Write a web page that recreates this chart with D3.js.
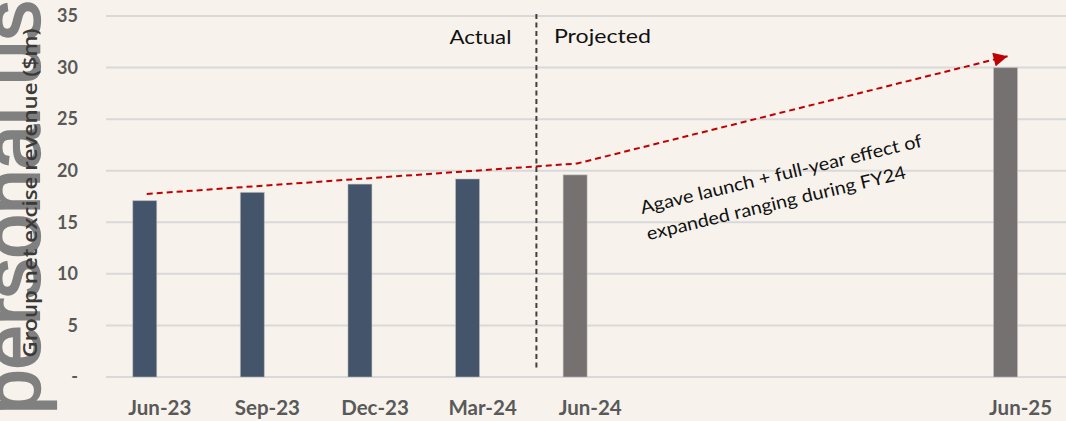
<!DOCTYPE html>
<html>
<head>
<meta charset="utf-8">
<script src="https://cdn.jsdelivr.net/npm/d3@7"></script>
<style>
  html, body { margin: 0; padding: 0; background: #f7f3ec; }
  svg { display: block; }
</style>
</head>
<body>
<div id="chart"></div>
<script>
// ---------- data ----------
const categories = ["Jun-23", "Sep-23", "Dec-23", "Mar-24", "Jun-24", "Jun-25"];
const values = [17.1, 17.9, 18.7, 19.2, 19.6, 30.0];
const seriesOf = ["Actual", "Actual", "Actual", "Actual", "Projected", "Projected"];
const yTickValues = [0, 5, 10, 15, 20, 25, 30, 35];
const yTickLabels = ["-", "5", "10", "15", "20", "25", "30", "35"];
const yTitle = "Group net excise revenue ($m)";
const phaseLabels = ["Actual", "Projected"];
const annotationLines = ["Agave launch + full-year effect of", "expanded ranging during FY24"];
// trend arrow: passes through these categories at these values
const trendCategories = ["Jun-23", "Jun-24", "Jun-25"];
const trendValues = [17.75, 20.7, 31.1];
const watermark = "personal use";

// ---------- layout ----------
const W = 1066, H = 421;
// category slots on the axis: three empty quarters between Jun-24 and Jun-25
const slots = ["Jun-23", "Sep-23", "Dec-23", "Mar-24", "Jun-24", "_1", "_2", "_3", "Jun-25"];

const svg = d3.select("#chart").append("svg")
  .attr("width", W).attr("height", H);

svg.append("rect").attr("width", W).attr("height", H).attr("fill", "#f7f3ec");

const x = d3.scaleBand().domain(slots).range([106, 1074.4]);
const y = d3.scaleLinear().domain([0, 35]).range([377, 16]);
const step = x.step();
const cx = c => x(c) + x.bandwidth() / 2;
const barW = step * 0.223;
const barShift = -step * 0.14;
const barCx = c => cx(c) + barShift;

const colors = { Actual: "#44546a", Projected: "#767171" };

// watermark
svg.append("text")
  .attr("transform", `translate(39,414) rotate(-90)`)
  .attr("font-family", "Liberation Sans, Arial, sans-serif")
  .attr("font-size", 80)
  .attr("fill", "#808080")
  .attr("stroke", "#808080").attr("stroke-width", 2.2)
  .text(watermark);

// gridlines
svg.append("g").selectAll("line").data(yTickValues).join("line")
  .attr("x1", 106).attr("x2", W)
  .attr("y1", d => y(d)).attr("y2", d => y(d))
  .attr("stroke", "#d9d9d9").attr("stroke-width", 2);

// y axis labels
const yAxis = d3.axisLeft(y).tickValues(yTickValues)
  .tickFormat((d, i) => yTickLabels[i]).tickSize(0).tickPadding(0);
const gy = svg.append("g").attr("transform", "translate(78,0)").call(yAxis);
gy.select(".domain").remove();
gy.selectAll("text")
  .attr("font-family", "Lato, sans-serif").attr("font-weight", "bold")
  .attr("font-size", 18).attr("fill", "#595959");

// y title
svg.append("text")
  .attr("transform", `translate(36.5,193) rotate(-90)`)
  .attr("text-anchor", "middle")
  .attr("font-family", "Open Sans, sans-serif")
  .attr("font-weight", 600)
  .attr("font-size", 19)
  .attr("fill", "#3a3a3a")
  .attr("textLength", 329).attr("lengthAdjust", "spacingAndGlyphs")
  .text(yTitle);

// bars
svg.append("g").selectAll("rect").data(values).join("rect")
  .attr("x", (d, i) => barCx(categories[i]) - barW / 2)
  .attr("width", barW)
  .attr("y", d => y(d))
  .attr("height", d => y(0) - y(d))
  .attr("fill", (d, i) => colors[seriesOf[i]])
  .attr("stroke", "#c8c8c8").attr("stroke-opacity", 0.5).attr("stroke-width", 1);

// x labels
svg.append("g").selectAll("text").data(categories).join("text")
  .attr("x", d => cx(d))
  .attr("y", 415)
  .attr("text-anchor", "middle")
  .attr("font-family", "Lato, sans-serif").attr("font-weight", "bold")
  .attr("font-size", 20.5).attr("fill", "#595959")
  .text(d => d);

// divider between Mar-24 and Jun-24
const divX = (cx("Mar-24") + cx("Jun-24")) / 2;
svg.append("line")
  .attr("x1", divX).attr("x2", divX)
  .attr("y1", y(35) - 2).attr("y2", y(0) - 9)
  .attr("stroke", "#404040").attr("stroke-width", 2)
  .attr("stroke-dasharray", "5,3.5");

// phase labels
svg.append("text")
  .attr("x", divX - 25).attr("y", 44.3)
  .attr("text-anchor", "end")
  .attr("font-family", "Lato, sans-serif").attr("font-size", 20).attr("fill", "#111")
  .attr("textLength", 62).attr("lengthAdjust", "spacingAndGlyphs")
  .text(phaseLabels[0]);
svg.append("text")
  .attr("x", divX + 17.5).attr("y", 42.5)
  .attr("font-family", "Lato, sans-serif").attr("font-size", 20).attr("fill", "#111")
  .attr("textLength", 97).attr("lengthAdjust", "spacingAndGlyphs")
  .text(phaseLabels[1]);

// trend arrow
const defs = svg.append("defs");
defs.append("marker")
  .attr("id", "arrow").attr("viewBox", "0 0 10 10")
  .attr("refX", 10).attr("refY", 5)
  .attr("markerWidth", 16).attr("markerHeight", 14)
  .attr("markerUnits", "userSpaceOnUse")
  .attr("orient", "auto")
  .append("path").attr("d", "M0,0 L10,5 L0,10 Z").attr("fill", "#c00000");

const line = d3.line().x(d => barCx(d[0]) + 2).y(d => y(d[1]));
svg.append("path")
  .datum(trendCategories.map((c, i) => [c, trendValues[i]]))
  .attr("d", line)
  .attr("fill", "none")
  .attr("stroke", "#c00000").attr("stroke-width", 2)
  .attr("stroke-dasharray", "6,4")
  .attr("marker-end", "url(#arrow)");

// annotation (left-aligned, rotated)
const ann = svg.append("g").attr("transform", "translate(642,214) rotate(-13.5)");
ann.selectAll("text").data(annotationLines).join("text")
  .attr("x", 0)
  .attr("y", (d, i) => i * 27)
  .attr("font-family", "Lato, sans-serif").attr("font-size", 18).attr("fill", "#111")
  .attr("textLength", (d, i) => i === 0 ? 289 : 266)
  .attr("lengthAdjust", "spacingAndGlyphs")
  .text(d => d);
</script>
</body>
</html>
